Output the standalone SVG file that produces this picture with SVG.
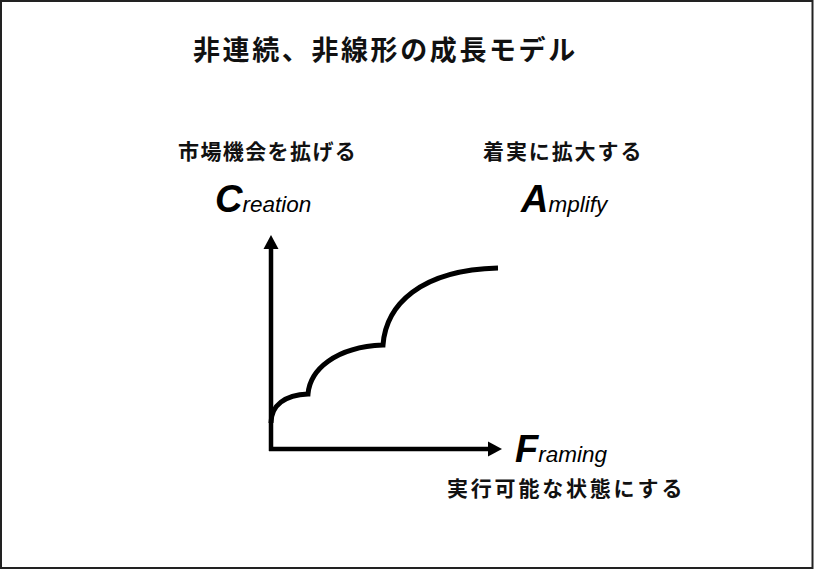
<svg xmlns="http://www.w3.org/2000/svg" width="814" height="570" viewBox="0 0 814 570">
<style>
.jp{font-family:"Noto Sans CJK JP","Noto Sans",sans-serif;fill:#111;font-weight:bold;}
.big{font-family:"Liberation Sans",Arial,sans-serif;font-style:italic;font-weight:bold;font-size:38px;fill:#000;}
.sm{font-family:"Liberation Sans",Arial,sans-serif;font-style:italic;font-size:22.5px;fill:#000;}
.ax{stroke:#000;stroke-width:4.5;fill:none;}
.cv{stroke:#000;stroke-width:5;fill:none;stroke-linejoin:miter;}
</style>
<rect x="1" y="1" width="811.5" height="567" fill="#fff" stroke="#222" stroke-width="2"/>
<g id="title"><text class="jp" x="193" y="60" font-size="27" letter-spacing="2.6">非連続、非線形の成長モデル</text></g>
<g id="creation">
<text class="jp" x="178" y="159" font-size="21" letter-spacing="1.4">市場機会を拡げる</text>
<text x="215" y="212"><tspan class="big">C</tspan><tspan class="sm">reation</tspan></text>
</g>
<g id="amplify">
<text class="jp" x="483" y="159" font-size="21" letter-spacing="1.9">着実に拡大する</text>
<text x="521" y="212"><tspan class="big">A</tspan><tspan class="sm">mplify</tspan></text>
</g>
<g id="framing">
<text x="515" y="462"><tspan class="big">F</tspan><tspan class="sm">raming</tspan></text>
<text class="jp" x="447" y="496" font-size="21" letter-spacing="2.8">実行可能な状態にする</text>
</g>
<g id="connectors">
<line class="ax" x1="271" y1="451" x2="271" y2="247"/>
<polygon points="271,235 263.5,249 278.5,249" fill="#000"/>
<line class="ax" x1="269" y1="449" x2="489" y2="449"/>
<polygon points="502,449 488,441.5 488,456.5" fill="#000"/>
<path class="cv" d="M271,423 C271,405 285,395 308,394 C310,370 335,347 383,345 C386,305 420,270 498,268"/>
</g>
</svg>
